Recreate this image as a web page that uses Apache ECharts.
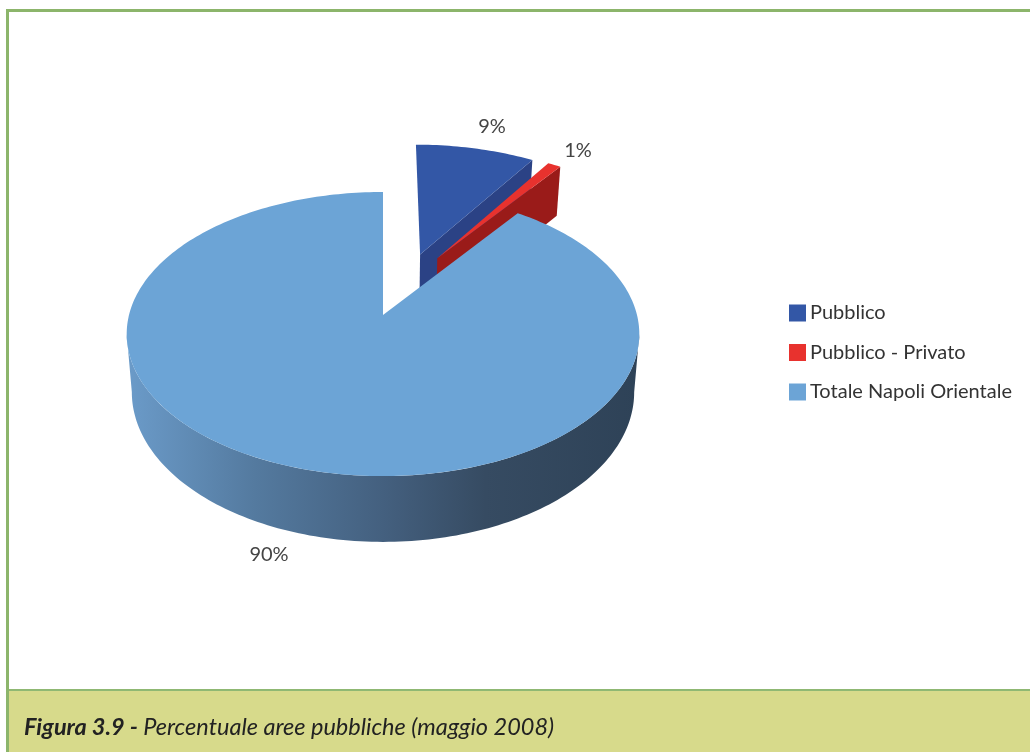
<!DOCTYPE html>
<html>
<head>
<meta charset="utf-8">
<style>html,body{margin:0;padding:0;background:#fff}#c{width:1030px;height:752px}</style>
<script src="https://cdn.jsdelivr.net/npm/echarts@6/dist/echarts.min.js"></script>
</head>
<body>
<div id="c"></div>
<script>
const categories = ["Pubblico", "Pubblico - Privato", "Totale Napoli Orientale"];
const values = [9, 1, 90];
const figureBold = "Figura 3.9 - ";
const figureText = "Percentuale aree pubbliche (maggio 2008)";

// styling / layout
const topColors = ["#3357a6", "#e8322e", "#6ca4d6"];
const wallColors = ["#2b4285", "#9a1b19", null];
const explode = [[0.155, 0.46], [0.226, 0.43], [0, 0]];
const labelPos = [[492, 127], [578, 151], [269, 555]];
const cam = {cx: 383, cy: 315, A: 254, a: 139.5, b: 0.134, D: 57, shrink: 0.98};
const total = values.reduce((s, v) => s + v, 0);

function project(u, v, bottom) {
  const d = 1 + cam.b * v;
  let x = cam.A * u / d;
  let y = -cam.a * v / d;
  if (bottom) { x *= cam.shrink; y += cam.D / d; }
  return [cam.cx + x, cam.cy + y];
}
function rimPoints(t0, t1, off, bottom) {
  const pts = [], n = Math.max(2, Math.ceil((t1 - t0) / 0.02));
  for (let i = 0; i <= n; i++) {
    const t = t0 + (t1 - t0) * i / n;
    pts.push(project(Math.sin(t) + off[0], Math.cos(t) + off[1], bottom));
  }
  return pts;
}
function makeRender(idx) {
  return function (params, api) {
    const before = values.slice(0, idx).reduce((s, v) => s + v, 0);
    const t0 = before / total * Math.PI * 2;
    const t1 = t0 + api.value(0) / total * Math.PI * 2;
    const off = explode[idx];
    const apexTop = project(off[0], off[1], false);
    const apexBottom = project(off[0], off[1], true);
    const children = [];
    if (idx === 2) {
      // silhouette of the side wall runs between the widest points of the rim
      const widest = Math.acos(-cam.b);
      const a0 = widest, a1 = Math.PI * 2 - widest;
      const top = rimPoints(a0, a1, off, false);
      const bot = rimPoints(a0, a1, off, true).reverse();
      children.push({
        type: 'polygon', shape: {points: top.concat(bot)},
        style: {fill: new echarts.graphic.LinearGradient(1, 0, 0, 0, [
          {offset: 0, color: '#2e4257'},
          {offset: 0.3, color: '#364b62'},
          {offset: 0.5, color: '#44607f'},
          {offset: 0.75, color: '#547a9f'},
          {offset: 1, color: '#6b9bc9'}
        ])}
      });
    } else {
      const c = [Math.sin(t1) + off[0], Math.cos(t1) + off[1]];
      children.push({
        type: 'polygon',
        shape: {points: [apexTop, project(c[0], c[1], false), project(c[0], c[1], true), apexBottom]},
        style: {fill: wallColors[idx]}
      });
    }
    children.push({
      type: 'polygon',
      shape: {points: [apexTop].concat(rimPoints(t0, t1, off, false))},
      style: {fill: topColors[idx]}
    });
    children.push({
      type: 'text',
      style: {
        x: labelPos[idx][0], y: labelPos[idx][1], text: api.value(0) + '%',
        align: 'center', verticalAlign: 'middle',
        fill: '#444', font: '20px Lato'
      }
    });
    return {type: 'group', children};
  };
}

const chart = echarts.init(document.getElementById('c'), null, {renderer: 'canvas'});
chart.setOption({
  animation: false,
  backgroundColor: '#fff',
  title: {
    left: 19, top: 711,
    text: '{b|' + figureBold + '}{i|' + figureText + '}',
    textStyle: {fontWeight: 'normal', rich: {
      b: {fontFamily: 'Lato', fontStyle: 'italic', fontWeight: 'bold', fontSize: 23.5, color: '#222'},
      i: {fontFamily: 'Lato', fontStyle: 'italic', fontWeight: 'normal', fontSize: 23.5, color: '#222'}
    }}
  },
  legend: {
    orient: 'vertical', left: 784, top: 298, itemWidth: 17, itemHeight: 17, itemGap: 19.5,
    icon: 'rect', selectedMode: false,
    data: categories,
    textStyle: {fontFamily: 'Lato', fontSize: 20, color: '#333', padding: [0, 0, 0, -1]}
  },
  graphic: [
    {type: 'rect', z: -10, shape: {x: 7.5, y: 10.5, width: 1040, height: 800}, style: {fill: '#fff', stroke: '#8cb56b', lineWidth: 3}},
    {type: 'rect', z: -9, shape: {x: 9, y: 690, width: 1021, height: 62}, style: {fill: '#d7da8b'}},
    {type: 'rect', z: -8, shape: {x: 9, y: 689, width: 1021, height: 2}, style: {fill: '#8fb873'}}
  ],
  series: categories.map((name, i) => ({
    type: 'custom', name, coordinateSystem: 'none',
    renderItem: makeRender(i),
    itemStyle: {color: topColors[i]},
    data: [[values[i]]]
  }))
});
</script>
</body>
</html>
